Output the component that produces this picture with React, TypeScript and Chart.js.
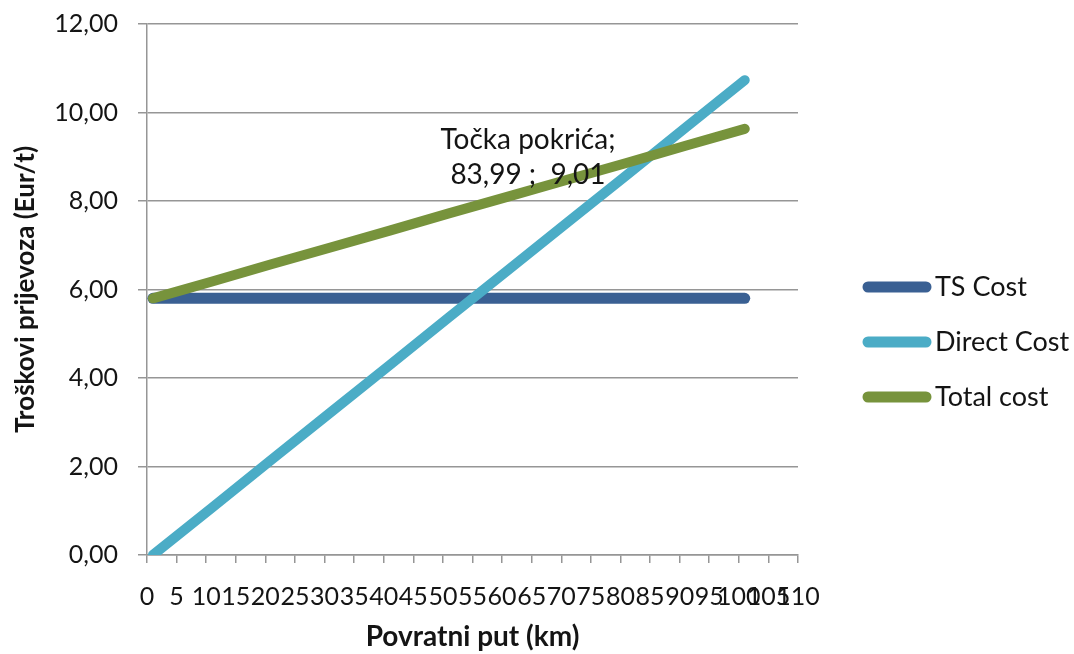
import React, { useEffect, useRef } from "react";
import { Chart, registerables } from "chart.js";

Chart.register(...registerables);

// Data
const kmPositions = [1, 11, 21, 31, 41, 51, 61, 71, 81, 91, 101];
const tsCost = [5.8, 5.8, 5.8, 5.8, 5.8, 5.8, 5.8, 5.8, 5.8, 5.8, 5.8];
const directCost = [0, 1.07, 2.15, 3.22, 4.29, 5.37, 6.44, 7.51, 8.58, 9.66, 10.73];
const totalCost = [5.8, 6.18, 6.57, 6.95, 7.33, 7.72, 8.1, 8.48, 8.86, 9.25, 9.63];
const seriesNames = ["TS Cost", "Direct Cost", "Total cost"];
const seriesColors = ["#3A6093", "#4BACC6", "#77933C"];
const breakEvenText = ["Točka pokrića;", "83,99 ;  9,01"];
const breakEvenPoint = [84.99, 9.01];
const yTitle = "Troškovi prijevoza (Eur/t)";
const xTitle = "Povratni put (km)";

const FONT = "Lato, 'Open Sans', sans-serif";
const TEXT = "#141414";
const GRID = "#969696";

export default function App() {
  const ref = useRef<HTMLCanvasElement | null>(null);

  useEffect(() => {
    document.body.style.margin = "0";
    const canvas = ref.current;
    if (!canvas) return;

    const series = [tsCost, directCost, totalCost];

    const overlay = {
      id: "overlay",
      afterDatasetsDraw(chart: any) {
        const ctx = chart.ctx;
        const area = chart.chartArea;
        const xs = chart.scales.x;
        const ys = chart.scales.y;
        ctx.save();
        // annotation
        const px = xs.getPixelForValue(breakEvenPoint[0]);
        const py = ys.getPixelForValue(breakEvenPoint[1]);
        ctx.fillStyle = TEXT;
        ctx.font = `28px ${FONT}`;
        ctx.textAlign = "center";
        ctx.textBaseline = "middle";
        ctx.fillText(breakEvenText[0], px - 122, py - 16);
        ctx.fillText(breakEvenText[1], px - 122, py + 19);
        // legend
        ctx.font = `27px ${FONT}`;
        ctx.lineCap = "round";
        ctx.lineWidth = 11;
        ctx.textAlign = "left";
        for (let i = 0; i < seriesNames.length; i++) {
          const cy = area.top + 263 + i * 55;
          ctx.strokeStyle = seriesColors[i];
          ctx.beginPath();
          ctx.moveTo(area.right + 70, cy);
          ctx.lineTo(area.right + 128, cy);
          ctx.stroke();
          ctx.fillStyle = TEXT;
          ctx.fillText(seriesNames[i], area.right + 137, cy);
        }
        ctx.restore();
      },
    };

    const chart = new Chart(canvas, {
      type: "line",
      data: {
        datasets: seriesNames.map((name, i) => ({
          label: name,
          data: kmPositions.map((x, j) => ({ x, y: series[i][j] })),
          borderColor: seriesColors[i],
          backgroundColor: seriesColors[i],
          borderWidth: i === 0 ? 11 : 10,
          borderCapStyle: "round",
          pointRadius: 0,
          tension: 0,
          fill: false,
          order: 3 - i,
        })),
      },
      options: {
        animation: false,
        responsive: false,
        maintainAspectRatio: false,
        layout: { padding: { top: 24, right: 276, left: 0, bottom: 0 } },
        plugins: {
          legend: { display: false },
          tooltip: { enabled: false },
        },
        scales: {
          x: {
            type: "linear",
            min: 0,
            max: 110,
            afterFit: (s: any) => {
              s.height = 99;
              s.paddingLeft = 0;
              s.paddingRight = 0;
            },
            ticks: {
              stepSize: 5,
              autoSkip: false,
              maxRotation: 0,
              minRotation: 0,
              padding: 19,
              color: TEXT,
              font: { family: FONT, size: 25 },
            },
            grid: {
              drawOnChartArea: false,
              drawTicks: true,
              tickLength: 8,
              color: GRID,
              lineWidth: 1.5,
            },
            border: { display: true, color: GRID, width: 1.5 },
            title: {
              display: true,
              text: xTitle,
              color: TEXT,
              font: { family: FONT, size: 28, weight: "bold" },
              padding: { top: 4, bottom: 0 },
            },
          },
          y: {
            min: 0,
            max: 12,
            afterFit: (s: any) => {
              s.width = 147;
              s.paddingTop = 0;
              s.paddingBottom = 0;
            },
            ticks: {
              stepSize: 2,
              padding: 20,
              color: TEXT,
              font: { family: FONT, size: 25 },
              callback: (v: any) => Number(v).toFixed(2).replace(".", ","),
            },
            grid: {
              color: GRID,
              lineWidth: 1.5,
              drawTicks: true,
              tickLength: 9,
            },
            border: { display: true, color: GRID, width: 1.5 },
            title: {
              display: true,
              text: yTitle,
              color: TEXT,
              font: { family: FONT, size: 26, weight: "bold" },
              padding: { top: 10, bottom: 0 },
            },
          },
        },
      },
      plugins: [overlay],
    } as any);

    return () => chart.destroy();
  }, []);

  return (
    <div style={{ width: 1074, height: 654, background: "#fff" }}>
      <canvas ref={ref} width={1074} height={654} style={{ display: "block" }} />
    </div>
  );
}
